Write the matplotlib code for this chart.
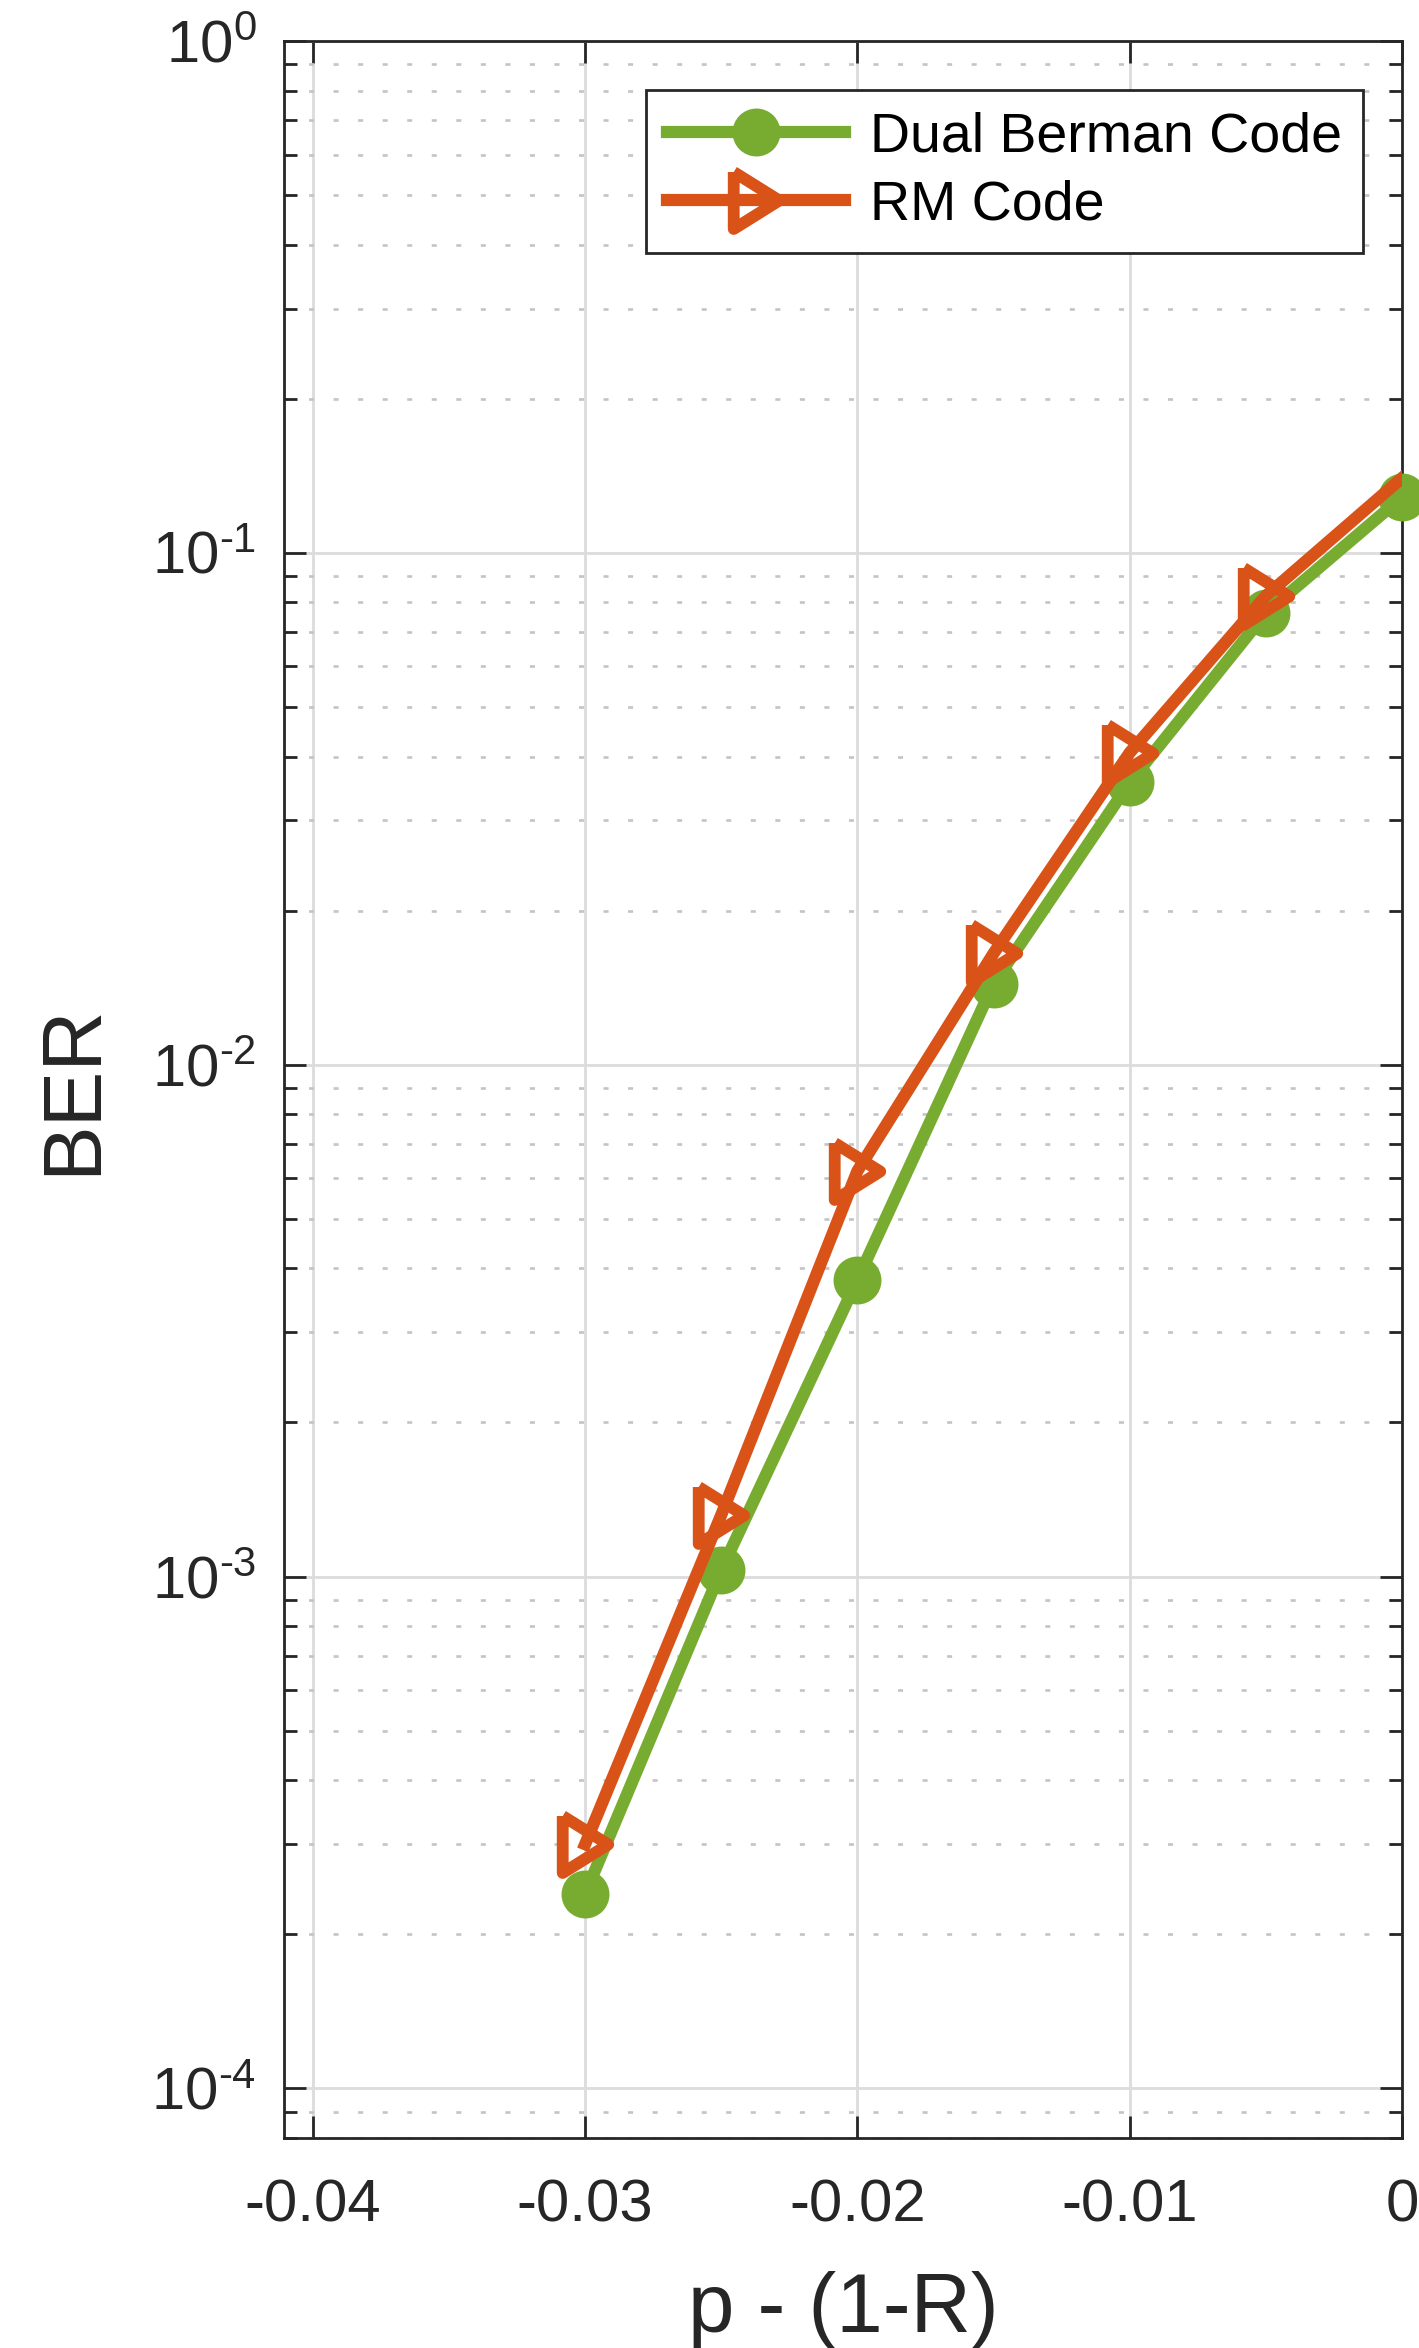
import math

import matplotlib
matplotlib.use("Agg")
import matplotlib.pyplot as plt
from matplotlib.ticker import FixedLocator, FuncFormatter, LogLocator, NullFormatter

plt.rcParams["font.family"] = ["Liberation Sans", "DejaVu Sans"]
plt.rcParams["mathtext.fontset"] = "custom"
plt.rcParams["mathtext.rm"] = "Liberation Sans"
plt.rcParams["mathtext.it"] = "Liberation Sans:italic"
plt.rcParams["axes.unicode_minus"] = False

# data
gap = [-0.03, -0.025, -0.02, -0.015, -0.01, -0.005, 0.0]
ber_berman = [2.40e-4, 1.03e-3, 3.80e-3, 1.44e-2, 3.56e-2, 7.63e-2, 0.1285]
gap_rm = [-0.03, -0.025, -0.02, -0.015, -0.01, -0.005, 0.005]
ber_rm = [3.0e-4, 1.32e-3, 6.2e-3, 1.65e-2, 4.07e-2, 8.24e-2, 0.238]

x_ticks = [-0.04, -0.03, -0.02, -0.01, 0]
x_ticklabels = ["-0.04", "-0.03", "-0.02", "-0.01", "0"]
y_major = [1e-4, 1e-3, 1e-2, 1e-1, 1e0]

GREEN = "#77AC30"
ORANGE = "#D95319"
INK = "#262626"

# right-pointing triangle, a bit narrower than tall like MATLAB's '>'
TRI = [(-0.8, 1.0), (0.8, 0.0), (-0.8, -1.0), (-0.8, 1.0)]

W, H = 1419, 2348
fig = plt.figure(figsize=(W / 100, H / 100), dpi=100)
left, right, top, bottom = 284, 1402, 41, 2138
ax = fig.add_axes([left / W, (H - bottom) / H, (right - left) / W, (bottom - top) / H])

ax.set_yscale("log")
ax.set_xlim(-0.04106, 0)
ax.set_ylim(8.0e-5, 1.0)

ax.plot(gap, ber_berman, color=GREEN, lw=8.8, marker="o", ms=26, mew=8.5,
        mfc=GREEN, mec=GREEN, clip_on=False, zorder=3, label="Dual Berman Code")
ax.plot(gap_rm, ber_rm, color=ORANGE, lw=8.8, marker=TRI, ms=41, mew=8.5,
        mfc="none", mec=ORANGE, clip_on=True, zorder=4, label="RM Code")

ax.xaxis.set_major_locator(FixedLocator(x_ticks))
ax.set_xticklabels(x_ticklabels)
ax.yaxis.set_major_locator(FixedLocator(y_major))
ax.yaxis.set_minor_locator(LogLocator(base=10, subs=range(2, 10), numticks=20))
ax.yaxis.set_major_formatter(FuncFormatter(
    lambda v, p: r"$\mathregular{10^{\text{%d}}}$" % round(math.log10(v))))
ax.yaxis.set_minor_formatter(NullFormatter())

ax.tick_params(which="both", direction="in", top=True, right=True,
               colors=INK, labelsize=43)
ax.tick_params(which="major", length=16, width=2)
ax.tick_params(which="minor", length=9.5, width=2)
ax.tick_params(axis="x", pad=29)
ax.tick_params(axis="y", pad=20)

ax.grid(True, which="major", color="#dcdcdc", lw=2, zorder=0)
ax.grid(True, which="minor", axis="y", color="#c4c4c4", lw=1.9,
        linestyle=(0, (1.9, 7.4)), zorder=0)
ax.set_axisbelow(True)

for sp in ax.spines.values():
    sp.set_color(INK)
    sp.set_linewidth(2)

ax.set_xlabel("p - (1-R)", fontsize=60, color=INK, va="baseline")
ax.xaxis.set_label_coords(0.5, (bottom - 2332) / (bottom - top))
ax.set_ylabel("BER", fontsize=60, color=INK, va="center")
ax.yaxis.set_label_coords((73 - left) / (right - left), 0.5)

leg = ax.legend(loc="upper right",
                bbox_to_anchor=((1363 - left) / (right - left), (bottom - 90) / (bottom - top)),
                borderaxespad=0, fontsize=40, frameon=True, fancybox=False,
                framealpha=1, edgecolor=INK, handlelength=3.2, handletextpad=0.45,
                labelspacing=0.3, borderpad=0.38)
leg.get_frame().set_linewidth(2)
for t in leg.get_texts():
    t.set_color("black")

fig.savefig("out.png", dpi=100)
